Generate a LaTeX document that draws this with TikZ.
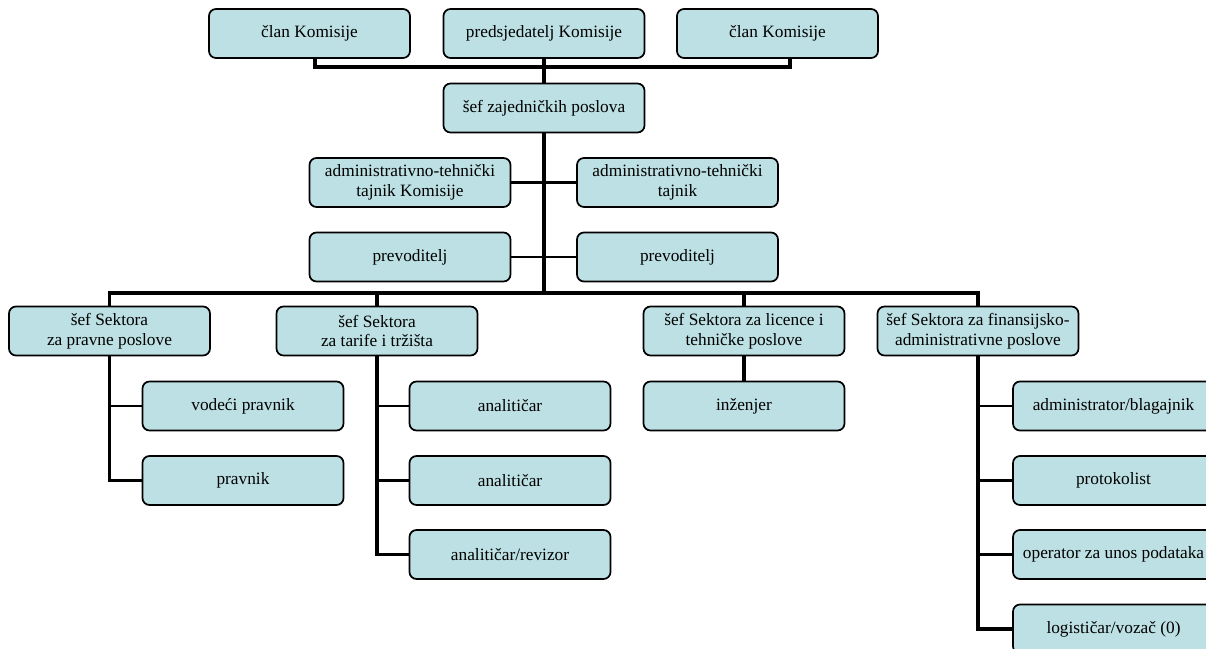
\documentclass[tikz,border=0pt]{standalone}
\usepackage{fontspec}
\setmainfont{Liberation Serif}
\usetikzlibrary{calc}
\definecolor{boxfill}{RGB}{188,224,227}
\begin{document}
\begin{tikzpicture}[x=1pt,y=-1pt,
  box/.style={draw=black, line width=1.7pt, fill=boxfill, rounded corners=7pt,
    minimum width=201pt, minimum height=49pt, inner sep=2pt, align=center,
    font=\fontsize{17.3}{19.5}\selectfont},
  thin/.style={line width=2.2pt},
  thick/.style={line width=3.2pt}]
\clip (0,0) rectangle (1206,648);
\useasboundingbox (0,0) rectangle (1206,648);
% top row
\node[box] (c1) at (309.5,33.5) {član Komisije};
\node[box] (p) at (544,33.5) {predsjedatelj Komisije};
\node[box] (c3) at (777.5,33.5) {član Komisije};
\node[box] (z) at (544,108) {šef zajedničkih poslova};
% staff
\node[box] (at1) at (410,182.5) {administrativno-tehnički\\tajnik Komisije};
\node[box] (at2) at (677.5,182.5) {administrativno-tehnički\\tajnik};
\node[box] (pr1) at (410,257) {prevoditelj};
\node[box] (pr2) at (677.5,257) {prevoditelj};
% sectors
\node[box] (s1) at (109.5,331) {šef Sektora\\za pravne poslove};
\node[box] (s2) at (377,331) {šef Sektora\\za tarife i tržišta};
\node[box] (s3) at (744,331) {šef Sektora za licence i\\tehničke poslove};
\node[box] (s4) at (978,331) {šef Sektora za finansijsko-\\administrativne poslove};
% children
\node[box] (v1) at (243,406) {vodeći pravnik};
\node[box] (v2) at (243,480.5) {pravnik};
\node[box] (a1) at (510,406) {analitičar};
\node[box] (a2) at (510,480.5) {analitičar};
\node[box] (a3) at (510,554.5) {analitičar/revizor};
\node[box] (i1) at (744,406) {inženjer};
\node[box] (f1) at (1113.5,406) {administrator/blagajnik};
\node[box] (f2) at (1113.5,480.5) {protokolist};
\node[box] (f3) at (1113.5,554.5) {operator za unos podataka};
\node[box] (f4) at (1113.5,629) {logističar/vozač (0)};
% top connectors
\coordinate (top) at (544,67);
\draw[thick] ([xshift=5.5pt]c1.south) |- (top) -| ([xshift=12.5pt]c3.south);
\draw[thick] (p.south) -- (z.north);
% trunk
\coordinate (bus) at (544,293);
\draw[thick] (z.south) -- (bus);
\draw[thin] (at1.east) -- (at2.west);
\draw[thin] (pr1.east) -- (pr2.west);
% bus
\draw[thick] (s1.north) |- (bus) -| (s4.north);
\draw[thick] (s2.north) -- (s2.north |- bus);
\draw[thick] (s3.north) -- (s3.north |- bus);
% sector children
\draw[thick] (s1.south) |- (v2.west);
\draw[thin] (v1.west) -- (v1.west -| s1.south);
\draw[thick] (s2.south) |- (a3.west);
\draw[thin] (a1.west) -- (a1.west -| s2.south);
\draw[thin] (a2.west) -- (a2.west -| s2.south);
\draw[thick] (s3.south) -- (i1.north);
\draw[thick] (s4.south) |- (f4.west);
\draw[thin] (f1.west) -- (f1.west -| s4.south);
\draw[thin] (f2.west) -- (f2.west -| s4.south);
\draw[thin] (f3.west) -- (f3.west -| s4.south);
\end{tikzpicture}
\end{document}
